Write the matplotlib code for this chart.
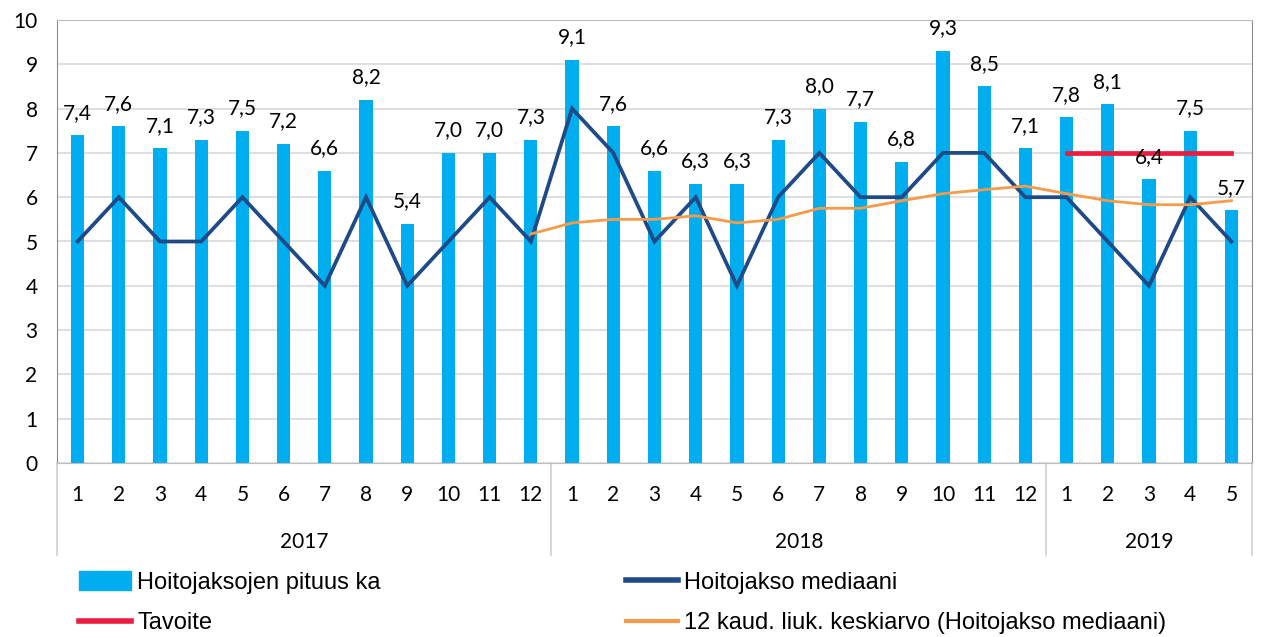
import matplotlib.pyplot as plt
from matplotlib.lines import Line2D
from matplotlib.patches import Patch

years = ["2017", "2018", "2019"]
months_per_year = [12, 12, 5]
month_labels = [str(m) for m in range(1, 13)] * 2 + ["1", "2", "3", "4", "5"]

ka = [7.4, 7.6, 7.1, 7.3, 7.5, 7.2, 6.6, 8.2, 5.4, 7.0, 7.0, 7.3,
      9.1, 7.6, 6.6, 6.3, 6.3, 7.3, 8.0, 7.7, 6.8, 9.3, 8.5, 7.1,
      7.8, 8.1, 6.4, 7.5, 5.7]
mediaani = [5, 6, 5, 5, 6, 5, 4, 6, 4, 5, 6, 5,
            8, 7, 5, 6, 4, 6, 7, 6, 6, 7, 7, 6,
            6, 5, 4, 6, 5]
# 12 kk liukuva keskiarvo alkaa 2017/12
liuk = [5.17, 5.42, 5.5, 5.5, 5.58, 5.42, 5.5, 5.75, 5.75, 5.92, 6.08, 6.17, 6.25,
        6.08, 5.92, 5.83, 5.83, 5.92]
liuk_start = 11
tavoite = [7, 7, 7, 7, 7]
tavoite_start = 24

c_bar = "#00ADEE"
c_med = "#1F4A86"
c_avg = "#F79A4A"
c_tav = "#EC1C3E"
num_font = "Lato"
txt_font = "Liberation Sans"

fig = plt.figure(figsize=(12.61, 6.37), dpi=100)
ax = fig.add_axes([57 / 1261, 1 - 463 / 637, (1252 - 57) / 1261, (463 - 20) / 637])

x = list(range(len(ka)))
ax.bar(x, ka, width=0.32, color=c_bar, zorder=2)
ax.plot(x, mediaani, color=c_med, lw=2.7, zorder=3, solid_joinstyle="miter")
ax.plot(x[liuk_start:], liuk, color=c_avg, lw=2.0, zorder=4)
ax.plot(x[tavoite_start:], tavoite, color=c_tav, lw=3.4, zorder=5)

for xi, v in zip(x, ka):
    ax.annotate(f"{v:.1f}".replace(".", ","), (xi, v), xytext=(0, 9),
                textcoords="offset points", ha="center", va="bottom",
                fontsize=15, family=num_font, zorder=6)

ax.set_xlim(-0.5, len(ka) - 0.5)
ax.set_ylim(0, 10)
ax.set_yticks(range(0, 11))
ax.tick_params(axis="y", length=0, labelsize=15, pad=14)
for lab in ax.get_yticklabels():
    lab.set_family(num_font)
ax.grid(axis="y", color="#D9D9D9", lw=1.2, zorder=0)
ax.set_axisbelow(True)
ax.set_xticks(x)
ax.set_xticklabels(month_labels, fontsize=15, family=num_font)
ax.tick_params(axis="x", length=0, pad=16)
for s in ["left", "right"]:
    ax.spines[s].set_color("#8C8C8C")
ax.spines["top"].set_color("#BFBFBF")
ax.spines["bottom"].set_color("#BFBFBF")

# vuosiryhmat
trans = ax.get_xaxis_transform()
start = 0
bounds = [-0.5]
for yr, n in zip(years, months_per_year):
    mid = start + (n - 1) / 2
    ax.text(mid, -0.178, yr, transform=trans, ha="center", va="center",
            fontsize=15, family=num_font)
    start += n
    bounds.append(start - 0.5)
for b in bounds:
    ax.add_line(Line2D([b, b], [0, -0.208], transform=trans, color="#D0D0D0",
                       lw=1.2, clip_on=False))

# rivijarjestys: ka, mediaani / tavoite, liuk
handles = [Patch(color=c_bar), Line2D([], [], color=c_tav, lw=4),
           Line2D([], [], color=c_med, lw=4), Line2D([], [], color=c_avg, lw=3)]
labels = ["Hoitojaksojen pituus ka", "Tavoite", "Hoitojakso mediaani",
          "12 kaud. liuk. keskiarvo (Hoitojakso mediaani)"]
fig.legend(handles, labels, loc="upper left", bbox_to_anchor=(70 / 1261, 1 - 562 / 637),
           ncol=2, frameon=False, prop={"family": txt_font, "size": 17},
           handlelength=2.2, handleheight=0.8, handletextpad=0.25, columnspacing=10.4,
           labelspacing=0.78, borderaxespad=0)

fig.savefig("out.png", dpi=100)
